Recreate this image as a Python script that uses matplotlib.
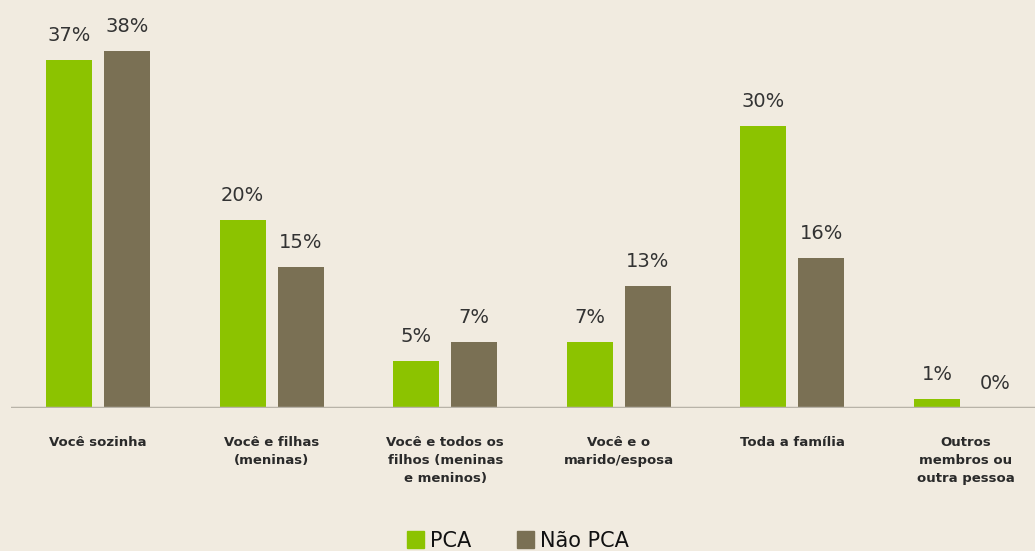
import matplotlib
matplotlib.use("Agg")
import matplotlib.pyplot as plt
import numpy as np
from matplotlib.patches import Patch

categories = ["Você sozinha", "Você e filhas\n(meninas)", "Você e todos os\nfilhos (meninas\ne meninos)",
              "Você e o\nmarido/esposa", "Toda a família", "Outros\nmembros ou\noutra pessoa"]
pca = [37, 20, 5, 7, 30, 1]
nao_pca = [38, 15, 7, 13, 16, 0]
series_names = ["PCA", "Não PCA"]

bg = "#F1EBE0"
green = "#8CC300"
brown = "#7A7054"
txt = "#333333"

fig = plt.figure(figsize=(10.35, 5.51), dpi=100, facecolor=bg)
ax = fig.add_axes([11/1035, 143/551, 1 - 11/1035, 408/551])
ax.set_facecolor(bg)

x = np.arange(len(categories))
w = 46/173.6
off = 29/173.6
b1 = ax.bar(x - off, pca, w, color=green, zorder=2)
b2 = ax.bar(x + off, nao_pca, w, color=brown, zorder=2)
ax.set_xlim(-87/173.6, (1035-98)/173.6)
ax.set_ylim(0, 408/9.4)

for bars, vals in ((b1, pca), (b2, nao_pca)):
    for r, v in zip(bars, vals):
        ax.text(r.get_x() + r.get_width()/2, v + 1.6, f"{v}%", ha="center", va="bottom",
                fontsize=14, color=txt, family="DejaVu Sans")

for s in ax.spines.values():
    s.set_visible(False)
ax.axhline(0, color="#B8B3A8", lw=2.5, zorder=3)
ax.set_yticks([])
ax.set_xticks(x)
ax.set_xticklabels(categories, fontsize=9.5, fontweight="bold", color="#2a2a2a", linespacing=1.5)
ax.tick_params(axis="x", length=0, pad=20)

handles = [Patch(color=green), Patch(color=brown)]
fig.legend(handles, series_names, loc="center", bbox_to_anchor=(0.5, 10/551), ncol=2, frameon=False,
           fontsize=15, handlelength=0.85, handleheight=0.85, handletextpad=0.25, columnspacing=2.2,
           borderpad=0, labelcolor="#111111")

fig.savefig("out.png", dpi=100, facecolor=bg)
